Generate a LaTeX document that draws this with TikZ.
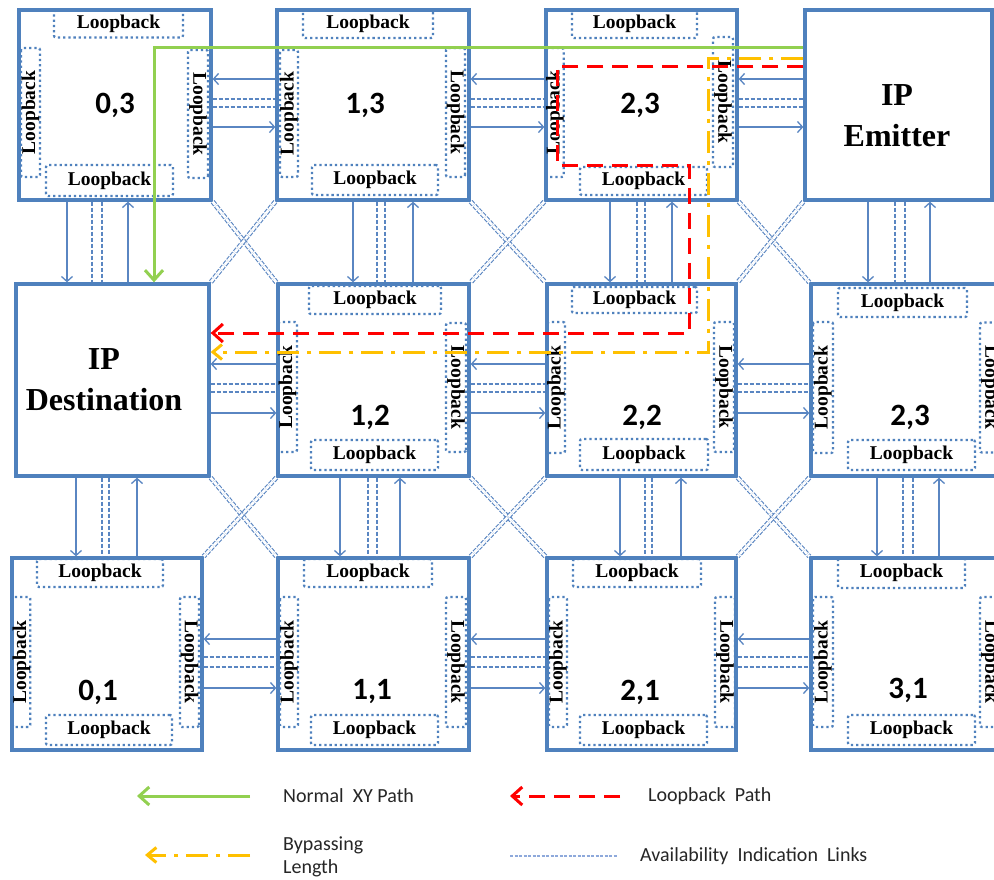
\documentclass[tikz,border=0pt]{standalone}
\usepackage{fontspec}
\setmainfont{Liberation Serif}
\newfontfamily\calfont{Carlito}
\usetikzlibrary{arrows.meta}
\definecolor{boxblue}{HTML}{4F81BD}
\definecolor{linkblue}{HTML}{5A86C2}
\definecolor{pathgreen}{HTML}{92D050}
\definecolor{pathred}{HTML}{FF0000}
\definecolor{pathyellow}{HTML}{FFC000}
\definecolor{legendtext}{HTML}{262626}
\definecolor{legendblue}{HTML}{8EA9DB}
\begin{document}
\begin{tikzpicture}[x=1pt,y=-1pt,
  router/.style={draw=boxblue, line width=3.3pt, inner sep=0pt},
  lbh/.style={draw=boxblue, line width=2.3pt, dash pattern=on 2.3pt off 2.9pt, rounded corners=2pt, inner sep=0pt, font=\fontsize{19.5}{20}\selectfont\bfseries},
  lbl/.style={lbh, rotate=90},
  lbr/.style={lbh, rotate=-90},
  rlabel/.style={font=\calfont\fontsize{31}{34}\selectfont\bfseries},
  iplabel/.style={font=\fontsize{32}{41}\selectfont\bfseries, align=center},
  link/.style={draw=linkblue, line width=1.3pt, -{Straight Barb[length=5pt,width=11pt]}},
  dlink/.style={draw=linkblue, line width=1.2pt, dash pattern=on 4pt off 2pt},
  diag/.style={draw=linkblue, line width=1.1pt, double=white, double distance=2.6pt, dash pattern=on 4pt off 1.5pt},
  gpath/.style={draw=pathgreen, line width=3pt, -{Straight Barb[length=10pt,width=18pt]}},
  rpath/.style={draw=pathred, line width=3pt, dash pattern=on 16pt off 9pt, -{Straight Barb[length=10pt,width=18pt]}},
  ypath/.style={draw=pathyellow, line width=3pt, dash pattern=on 22pt off 8pt on 4pt off 8pt, -{Straight Barb[length=9pt,width=15pt]}},
  legtext/.style={font=\calfont\fontsize{20}{23}\selectfont, text=legendtext, anchor=west, align=left, inner sep=0pt},
  legblue/.style={draw=legendblue, line width=1.6pt, dash pattern=on 3pt off 1.5pt}
]
\fill[white] (0,0) rectangle (994,879);
\useasboundingbox (0,0) rectangle (994,879);

% routers
\node[router, minimum width=192pt, minimum height=190pt] (r03) at (115,105) {};
\node[router, minimum width=192pt, minimum height=190pt] (r13) at (373,105) {};
\node[router, minimum width=191pt, minimum height=190pt] (r23a) at (641.5,105) {};
\node[router, minimum width=187pt, minimum height=190pt] (emit) at (898.5,105) {};
\node[router, minimum width=193pt, minimum height=192pt] (dest) at (112.5,380) {};
\node[router, minimum width=191pt, minimum height=192pt] (r12) at (373.5,380) {};
\node[router, minimum width=189pt, minimum height=192pt] (r22) at (641.5,380) {};
\node[router, minimum width=190pt, minimum height=192pt] (r23b) at (906,380) {};
\node[router, minimum width=190pt, minimum height=192pt] (r01) at (107,654) {};
\node[router, minimum width=191pt, minimum height=192pt] (r11) at (373.5,654) {};
\node[router, minimum width=189pt, minimum height=192pt] (r21) at (641.5,654) {};
\node[router, minimum width=190pt, minimum height=192pt] (r31) at (906,654) {};

\node[iplabel] (emitlbl) at (897,116) {IP\\Emitter};
\node[iplabel] (destlbl) at (104,380) {IP\\Destination};

% loopback units
\node[lbh, minimum width=129pt, minimum height=27pt] (r03t) at (118.5,24) {Loopback};
\node[lbl, minimum width=129pt, minimum height=19pt] (r03l) at (30.5,112.5) {Loopback};
\node[lbr, minimum width=128pt, minimum height=20pt] (r03r) at (198,114) {Loopback};
\node[lbh, minimum width=127pt, minimum height=31pt] (r03b) at (109.5,180.5) {Loopback};

\node[lbh, minimum width=130pt, minimum height=28pt] (r13t) at (368,24) {Loopback};
\node[lbl, minimum width=127pt, minimum height=18pt] (r13l) at (289,113.5) {Loopback};
\node[lbr, minimum width=129pt, minimum height=19pt] (r13r) at (455.5,112.5) {Loopback};
\node[lbh, minimum width=126pt, minimum height=30pt] (r13b) at (375,180) {Loopback};

\node[lbh, minimum width=125pt, minimum height=28pt] (r23at) at (634.5,24) {Loopback};
\node[lbl, minimum width=129pt, minimum height=16pt] (r23al) at (555,112.5) {Loopback};
\node[lbr, minimum width=130pt, minimum height=20pt] (r23ar) at (723,102) {Loopback};
\node[lbh, minimum width=127pt, minimum height=28pt] (r23ab) at (643.5,181) {Loopback};

\node[lbh, minimum width=132pt, minimum height=28pt] (r12t) at (375,300) {Loopback};
\node[lbl, minimum width=130pt, minimum height=19pt] (r12l) at (287.5,387) {Loopback};
\node[lbr, minimum width=129pt, minimum height=20pt] (r12r) at (456,387.5) {Loopback};
\node[lbh, minimum width=127pt, minimum height=30pt] (r12b) at (374.5,455) {Loopback};

\node[lbh, minimum width=125pt, minimum height=26pt] (r22t) at (634.5,300) {Loopback};
\node[lbl, minimum width=131pt, minimum height=18pt] (r22l) at (556,387.5) {Loopback};
\node[lbr, minimum width=130pt, minimum height=20pt] (r22r) at (724,387) {Loopback};
\node[lbh, minimum width=128pt, minimum height=31pt] (r22b) at (644,454.5) {Loopback};

\node[lbh, minimum width=129pt, minimum height=29pt] (r23bt) at (902.5,302.5) {Loopback};
\node[lbl, minimum width=131pt, minimum height=20pt] (r23bl) at (823,387.5) {Loopback};
\node[lbr, minimum width=130pt, minimum height=20pt] (r23br) at (990,387.5) {Loopback};
\node[lbh, minimum width=127pt, minimum height=30pt] (r23bb) at (911.5,455) {Loopback};

\node[lbh, minimum width=126pt, minimum height=28pt] (r01t) at (100,573) {Loopback};
\node[lbl, minimum width=130pt, minimum height=17pt] (r01l) at (21.5,662) {Loopback};
\node[lbr, minimum width=130pt, minimum height=19pt] (r01r) at (189.5,662) {Loopback};
\node[lbh, minimum width=126pt, minimum height=30pt] (r01b) at (109,730) {Loopback};

\node[lbh, minimum width=128pt, minimum height=28pt] (r11t) at (368,573) {Loopback};
\node[lbl, minimum width=130pt, minimum height=18pt] (r11l) at (289,662) {Loopback};
\node[lbr, minimum width=130pt, minimum height=20pt] (r11r) at (456,662) {Loopback};
\node[lbh, minimum width=127pt, minimum height=30pt] (r11b) at (374.5,730) {Loopback};

\node[lbh, minimum width=128pt, minimum height=28pt] (r21t) at (637,573) {Loopback};
\node[lbl, minimum width=130pt, minimum height=18pt] (r21l) at (558,662) {Loopback};
\node[lbr, minimum width=130pt, minimum height=20pt] (r21r) at (725,662) {Loopback};
\node[lbh, minimum width=127pt, minimum height=30pt] (r21b) at (643.5,730) {Loopback};

\node[lbh, minimum width=127pt, minimum height=30pt] (r31t) at (901.5,573) {Loopback};
\node[lbl, minimum width=130pt, minimum height=20pt] (r31l) at (823,662) {Loopback};
\node[lbr, minimum width=130pt, minimum height=20pt] (r31r) at (990,662) {Loopback};
\node[lbh, minimum width=127pt, minimum height=30pt] (r31b) at (911.5,730) {Loopback};

% router labels
\node[rlabel] (l03) at (115,105) {0,3};
\node[rlabel] (l13) at (365,105) {1,3};
\node[rlabel] (l23a) at (640,105) {2,3};
\node[rlabel] (l12) at (370,417) {1,2};
\node[rlabel] (l22) at (642,417) {2,2};
\node[rlabel] (l23b) at (910,417) {2,3};
\node[rlabel] (l01) at (98,692) {0,1};
\node[rlabel] (l11) at (372,692) {1,1};
\node[rlabel] (l21) at (640,692) {2,1};
\node[rlabel] (l31) at (908,690) {3,1};

% horizontal links
\foreach \a/\b in {r03/r13, r13/r23a, r23a/emit}{
  \draw[link] (\b.west |- 0,79) -- (\a.east |- 0,79);
  \draw[dlink] (\a.east |- 0,99) -- (\b.west |- 0,99);
  \draw[dlink] (\a.east |- 0,107) -- (\b.west |- 0,107);
  \draw[link] (\a.east |- 0,127) -- (\b.west |- 0,127);
}
\foreach \a/\b in {dest/r12, r12/r22, r22/r23b}{
  \draw[link] (\b.west |- 0,364) -- (\a.east |- 0,364);
  \draw[dlink] (\a.east |- 0,384) -- (\b.west |- 0,384);
  \draw[dlink] (\a.east |- 0,392) -- (\b.west |- 0,392);
  \draw[link] (\a.east |- 0,413) -- (\b.west |- 0,413);
}
\foreach \a/\b in {r01/r11, r11/r21, r21/r31}{
  \draw[link] (\b.west |- 0,639) -- (\a.east |- 0,639);
  \draw[dlink] (\a.east |- 0,657) -- (\b.west |- 0,657);
  \draw[dlink] (\a.east |- 0,667) -- (\b.west |- 0,667);
  \draw[link] (\a.east |- 0,688) -- (\b.west |- 0,688);
}

% vertical links
\foreach \a/\b/\xa/\xb/\xc/\xd in {r03/dest/67/92/102/128, dest/r01/76/102/109/137,
  r13/r12/353/377/385/413, r12/r11/340/368/377/400,
  r23a/r22/610/637/645/672, r22/r21/620/645/652/681,
  emit/r23b/868/895/905/930, r23b/r31/877/903/913/939}{
  \draw[link] (\a.south -| \xa,0) -- (\b.north -| \xa,0);
  \draw[dlink] (\a.south -| \xb,0) -- (\b.north -| \xb,0);
  \draw[dlink] (\a.south -| \xc,0) -- (\b.north -| \xc,0);
  \draw[link] (\b.north -| \xd,0) -- (\a.south -| \xd,0);
}

% diagonal availability links
\foreach \p/\q in {r03.south east/r12.north west, r13.south west/dest.north east,
  r13.south east/r22.north west, r23a.south west/r12.north east,
  r23a.south east/r23b.north west, emit.south west/r22.north east,
  dest.south east/r11.north west, r12.south west/r01.north east,
  r12.south east/r21.north west, r22.south west/r11.north east,
  r22.south east/r31.north west, r23b.south west/r21.north east}{
  \draw[diag] (\p) -- (\q);
}

% routing paths
\draw[gpath] (emit.west |- 0,47) -| (dest.north -| 154,0);
\draw[ypath] (emit.west |- 0,58) -| (708,352) -- (dest.east |- 0,352);
\draw[rpath] (emit.west |- 0,66) -| (557,165) -| (689,333) -- (dest.east |- 0,333);

% legend
\coordinate (gA) at (250,796); \coordinate (gB) at (137,796);
\coordinate (rA) at (620,796); \coordinate (rB) at (510,796);
\coordinate (yA) at (250,855); \coordinate (yB) at (145,855);
\coordinate (bA) at (510,856); \coordinate (bB) at (618,856);
\draw[gpath] (gA) -- (gB);
\draw[rpath] (rA) -- (rB);
\draw[ypath] (yA) -- (yB);
\draw[legblue] (bA) -- (bB);
\node[legtext] (tg) at (283,796) {Normal\ \ XY Path};
\node[legtext] (tr) at (648,796) {Loopback\ \ Path};
\node[legtext] (ty) at (283,857) {Bypassing\\Length};
\node[legtext] (tb) at (640,856) {Availability\ \ Indication\ \ Links};
\end{tikzpicture}
\end{document}
